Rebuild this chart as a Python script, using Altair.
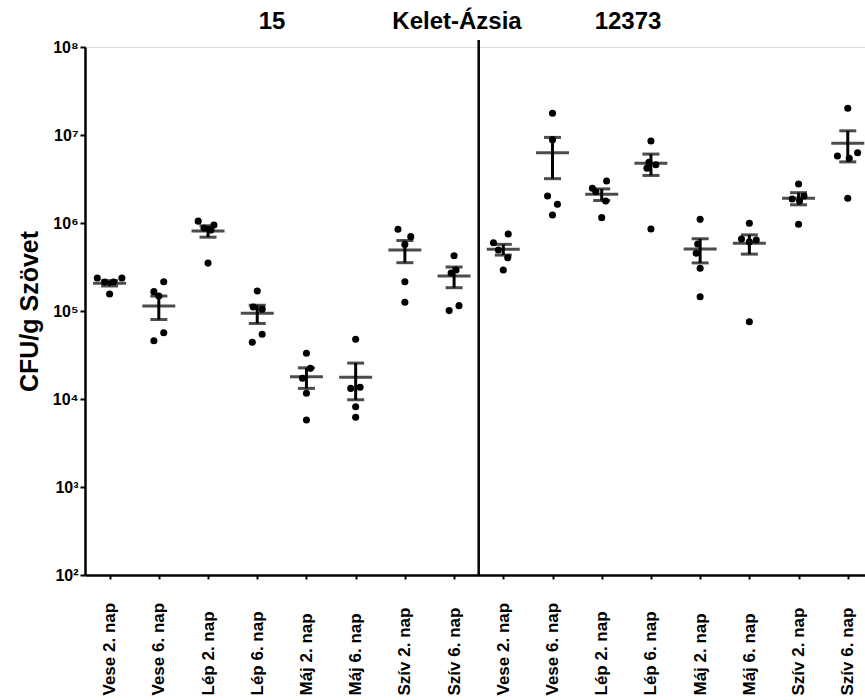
import altair as alt
import pandas as pd

# ---- data ----
tissues = ["Vese 2. nap", "Vese 6. nap", "Lép 2. nap", "Lép 6. nap",
           "Máj 2. nap", "Máj 6. nap", "Szív 2. nap", "Szív 6. nap"]
strains = ["15", "12373"]
labels = tissues + tissues

# CFU/g values, 5 mice per group (order of categories as in labels)
values = [
    [2.37e5, 2.37e5, 2.14e5, 2.14e5, 1.56e5],
    [2.15e5, 1.66e5, 1.48e5, 5.66e4, 4.59e4],
    [1.05e6, 9.5e5, 8.7e5, 8.3e5, 3.5e5],
    [1.69e5, 1.11e5, 1.05e5, 5.44e4, 4.41e4],
    [3.31e4, 2.23e4, 1.72e4, 1.16e4, 5.77e3],
    [4.77e4, 1.36e4, 1.32e4, 8.17e3, 6.19e3],
    [8.5e5, 7.0e5, 5.7e5, 2.15e5, 1.26e5],
    [4.25e5, 2.92e5, 2.7e5, 1.15e5, 1.01e5],
    [7.5e5, 5.97e5, 4.93e5, 4.03e5, 2.92e5],
    [1.77e7, 8.86e6, 2.03e6, 1.63e6, 1.23e6],
    [3.0e6, 2.48e6, 2.27e6, 1.78e6, 1.15e6],
    [8.55e6, 4.9e6, 4.6e6, 4.2e6, 8.55e5],
    [1.10e6, 5.77e5, 4.53e5, 3.06e5, 1.45e5],
    [9.93e5, 6.58e5, 6.42e5, 6.1e5, 7.56e4],
    [2.78e6, 2.03e6, 1.87e6, 1.78e6, 9.67e5],
    [2.01e7, 6.29e6, 5.77e6, 5.43e6, 1.91e6],
]
# horizontal scatter slot of each dot (fraction of a category step)
jitter = [
    [-0.25, 0.25, -0.1, 0.08, 0.0],
    [0.1, -0.1, 0.0, 0.1, -0.1],
    [-0.2, 0.12, -0.08, 0.06, 0.0],
    [0.0, -0.08, 0.1, 0.1, -0.1],
    [0.0, 0.08, -0.08, 0.0, 0.0],
    [0.0, 0.09, -0.1, 0.0, 0.0],
    [-0.14, 0.12, 0.0, 0.0, 0.0],
    [0.0, 0.04, -0.06, 0.1, -0.1],
    [0.1, -0.2, -0.1, 0.09, 0.0],
    [0.0, 0.0, -0.1, 0.1, 0.0],
    [0.1, -0.19, -0.12, 0.08, 0.0],
    [0.0, -0.04, 0.1, -0.08, 0.0],
    [0.0, -0.05, -0.08, 0.0, 0.0],
    [0.0, -0.16, 0.14, 0.0, 0.0],
    [0.0, 0.11, -0.13, 0.02, 0.0],
    [0.0, 0.2, -0.21, 0.03, 0.0],
]
means = [2.07e5, 1.14e5, 8.1e5, 9.42e4, 1.79e4, 1.77e4, 4.93e5, 2.50e5,
         5.02e5, 6.29e6, 2.12e6, 4.77e6, 5.07e5, 5.88e5, 1.91e6, 8.05e6]
sems = [1.45e4, 3.4e4, 1.2e5, 2.2e4, 4.7e3, 7.9e3, 1.39e5, 6.6e4,
        7.0e4, 3.1e6, 3.2e5, 1.3e6, 1.55e5, 1.45e5, 3.0e5, 3.1e6]
y_ticks = [1e2, 1e3, 1e4, 1e5, 1e6, 1e7, 1e8]

# ---- tables ----
pts = pd.DataFrame([
    {"idx": i, "label": labels[i], "cfu": v, "jit": j}
    for i in range(len(labels))
    for v, j in zip(values[i], jitter[i])
])
stats = pd.DataFrame({"idx": list(range(len(labels))), "mean": means, "sem": sems})
stats["lo"] = stats["mean"] - stats["sem"]
stats["hi"] = stats["mean"] + stats["sem"]

W, H = 780, 528
FONT = "Liberation Sans"

label_expr = "[" + ",".join("'" + l + "'" for l in labels) + "][datum.value]"
sup_expr = ("'10' + ['\u2070','\u00b9','\u00b2','\u00b3','\u2074','\u2075','\u2076','\u2077','\u2078']"
            "[round(log(datum.value)/LN10)]")

xscale = alt.Scale(domain=[-0.5, 15.35], nice=False, zero=False)
yscale = alt.Scale(type="log", domain=[1e2, 1e8], nice=False)

xaxis = alt.Axis(values=list(range(16)), labelExpr=label_expr, title=None,
                 labelAngle=270, labelAlign="left", labelBaseline="middle",
                 labelPadding=116, labelFontSize=17, labelFontWeight="bold",
                 labelFont=FONT, labelColor="black", labelOverlap=False,
                 domainColor="black", domainWidth=2.5, tickColor="black",
                 tickWidth=2, tickSize=4, grid=False)
yaxis = alt.Axis(values=y_ticks, labelExpr=sup_expr, title="CFU/g Szövet",
                 labelFontSize=16, labelFontWeight="bold", labelFont=FONT,
                 labelColor="black", labelPadding=2,
                 titleFontSize=25, titleFont=FONT, titleFontWeight="bold",
                 titleColor="black", titlePadding=10,
                 domainColor="black", domainWidth=2.5, tickColor="black",
                 tickWidth=2, tickSize=5, grid=False)

dots = alt.Chart(pts).transform_calculate(
    xpos="datum.idx + datum.jit"
).mark_circle(size=50, color="black", opacity=1).encode(
    x=alt.X("xpos:Q", scale=xscale, axis=xaxis),
    y=alt.Y("cfu:Q", scale=yscale, axis=yaxis),
)

base = alt.Chart(stats)
mean_line = base.mark_tick(orient="horizontal", size=33, thickness=3, color="black").encode(
    x="idx:Q", y="mean:Q")
err = base.mark_rule(strokeWidth=3, color="black").encode(
    x="idx:Q", y="lo:Q", y2="hi:Q")
cap_lo = base.mark_tick(orient="horizontal", size=17, thickness=3, color="black").encode(
    x="idx:Q", y="lo:Q")
cap_hi = base.mark_tick(orient="horizontal", size=17, thickness=3, color="black").encode(
    x="idx:Q", y="hi:Q")

divider = alt.Chart(pd.DataFrame({"b": [len(tissues) - 0.5]})).mark_rule(
    strokeWidth=2.5, color="black").encode(
    x="b:Q", y=alt.value(-7), y2=alt.value(H))

heads = pd.DataFrame({"t": ["15", "Kelet-Ázsia", "12373"], "px": [187, 372, 543]})
head_text = alt.Chart(heads).mark_text(
    fontSize=24, fontWeight="bold", font=FONT, color="black", baseline="middle", align="center"
).encode(x=alt.X("px:Q", scale=None), y=alt.value(-25), text="t:N")

chart = alt.layer(dots, err, cap_lo, cap_hi, mean_line, divider, head_text).properties(
    width=W, height=H,
    autosize=alt.AutoSizeParams(type="none"),
    padding={"left": 85, "top": 47, "right": 0, "bottom": 125},
).configure_view(stroke=None).configure(background="white")

chart.save("out.html", embed_options={"renderer": "svg", "actions": False})
